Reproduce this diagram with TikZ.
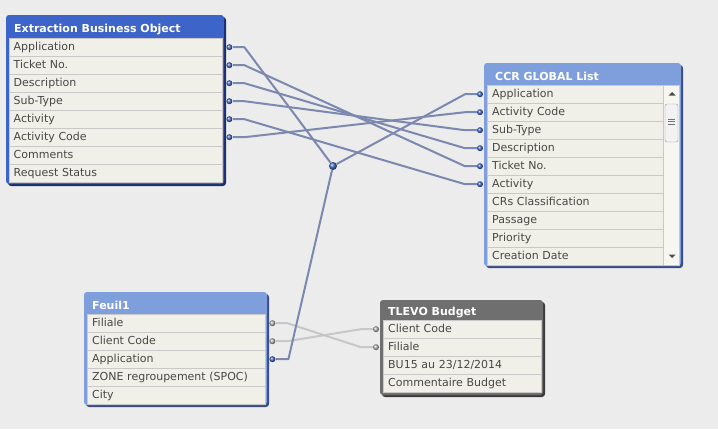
\documentclass[tikz,border=0pt]{standalone}
\usepackage{fontspec}
\setmainfont{DejaVu Sans}
\definecolor{canvas}{HTML}{ECECEC}
\definecolor{rowbg}{HTML}{F1F0E8}
\definecolor{rowline}{HTML}{C9C9C9}
\definecolor{rowtext}{HTML}{474747}
\definecolor{activeblue}{HTML}{3D65C9}
\definecolor{activedark}{HTML}{1B2D6B}
\definecolor{paleblue}{HTML}{7E9EDC}
\definecolor{paledark}{HTML}{3A4C80}
\definecolor{greytitle}{HTML}{6F6F6F}
\definecolor{greydark}{HTML}{3C3C3C}
\definecolor{linkblue}{HTML}{7C88AE}
\definecolor{linkgrey}{HTML}{C7C7C7}
\definecolor{dotblue}{HTML}{3F68C8}

\begin{document}
\begin{tikzpicture}[x=1pt, y=-1pt,
	row/.style={draw=rowline, fill=rowbg, anchor=north west, minimum height=18pt, inner xsep=5pt, inner ysep=0pt, text=rowtext, font=\fontsize{11}{12}\selectfont, align=left, text width=#1, text height=9.5pt, text depth=2pt},
	tabtitle/.style={anchor=base west, text=white, font=\fontsize{11}{12}\selectfont\bfseries, inner sep=0pt},
	keydot/.style={circle, inner sep=0pt, minimum size=6pt, shading=ball, ball color=dotblue},
	greydot/.style={circle, inner sep=0pt, minimum size=6pt, shading=ball, ball color=black!30},
	keylink/.style={draw=linkblue, line width=2pt, line join=round},
	greylink/.style={draw=linkgrey, line width=2pt, line join=round}]
	\useasboundingbox (0,0) rectangle (718,429);
	\fill[canvas] (0,0) rectangle (718,429);

	% Extraction Business Object
	\fill[activedark, rounded corners=3pt] (8,17) rectangle (226,186);
	\fill[activeblue, rounded corners=3pt] (6,15) rectangle (224,184);
	\node[tabtitle] (ebo) at (14,32) {Extraction Business Object};
	\node[row=203.5] (ebo1) at (8.5,38) {Application};
	\node[row=203.5] (ebo2) at (8.5,56) {Ticket No.};
	\node[row=203.5] (ebo3) at (8.5,74) {Description};
	\node[row=203.5] (ebo4) at (8.5,92) {Sub-Type};
	\node[row=203.5] (ebo5) at (8.5,110) {Activity};
	\node[row=203.5] (ebo6) at (8.5,128) {Activity Code};
	\node[row=203.5] (ebo7) at (8.5,146) {Comments};
	\node[row=203.5] (ebo8) at (8.5,164) {Request Status};

	% CCR GLOBAL List
	\fill[paledark, rounded corners=3pt] (486,65) rectangle (683,268);
	\fill[paleblue, rounded corners=3pt] (484,63) rectangle (681,266);
	\node[tabtitle] (ccr) at (495,80) {CCR GLOBAL List};
	\node[row=166] (ccr1) at (487,85) {Application};
	\node[row=166] (ccr2) at (487,103) {Activity Code};
	\node[row=166] (ccr3) at (487,121) {Sub-Type};
	\node[row=166] (ccr4) at (487,139) {Description};
	\node[row=166] (ccr5) at (487,157) {Ticket No.};
	\node[row=166] (ccr6) at (487,175) {Activity};
	\node[row=166] (ccr7) at (487,193) {CRs Classification};
	\node[row=166] (ccr8) at (487,211) {Passage};
	\node[row=166] (ccr9) at (487,229) {Priority};
	\node[row=166] (ccr10) at (487,247) {Creation Date};
	% scroll bar
	\filldraw[fill=rowbg!60!white, draw=rowline] (663,85) rectangle (679,265);
	\filldraw[fill=white!95!black, draw=black!40, rounded corners=2pt] (665,104) rectangle (678,142);
	\foreach \gy in {119,121.5,124}
		\draw[black!55, line width=0.8pt] (668,\gy) -- (675,\gy);
	\fill[black!70] (668.5,95.5) -- (675.5,95.5) -- (672,92) -- cycle;
	\fill[black!70] (668.5,254.5) -- (675.5,254.5) -- (672,258) -- cycle;

	% Feuil1
	\fill[paledark, rounded corners=3pt] (86,294) rectangle (269,407);
	\fill[paleblue, rounded corners=3pt] (84,292) rectangle (267,405);
	\node[tabtitle] (fe) at (92,309) {Feuil1};
	\node[row=168] (fe1) at (87,314) {Filiale};
	\node[row=168] (fe2) at (87,332) {Client Code};
	\node[row=168] (fe3) at (87,350) {Application};
	\node[row=168] (fe4) at (87,368) {ZONE regroupement (SPOC)};
	\node[row=168] (fe5) at (87,386) {City};

	% TLEVO Budget
	\fill[greydark, rounded corners=3pt] (382,302) rectangle (545,397);
	\fill[greytitle, rounded corners=3pt] (380,300) rectangle (543,395);
	\node[tabtitle] (tb) at (388,315) {TLEVO Budget};
	\node[row=148] (tb1) at (383,320) {Client Code};
	\node[row=148] (tb2) at (383,338) {Filiale};
	\node[row=148] (tb3) at (383,356) {BU15 au 23/12/2014};
	\node[row=148] (tb4) at (383,374) {Commentaire Budget};

	% key points
	\node[keydot] (ebo1p) at ([xshift=7pt]ebo1.east) {};
	\node[keydot] (ebo2p) at ([xshift=7pt]ebo2.east) {};
	\node[keydot] (ebo3p) at ([xshift=7pt]ebo3.east) {};
	\node[keydot] (ebo4p) at ([xshift=7pt]ebo4.east) {};
	\node[keydot] (ebo5p) at ([xshift=7pt]ebo5.east) {};
	\node[keydot] (ebo6p) at ([xshift=7pt]ebo6.east) {};
	\node[keydot] (ccr1p) at ([xshift=-7pt]ccr1.west) {};
	\node[keydot] (ccr2p) at ([xshift=-7pt]ccr2.west) {};
	\node[keydot] (ccr3p) at ([xshift=-7pt]ccr3.west) {};
	\node[keydot] (ccr4p) at ([xshift=-7pt]ccr4.west) {};
	\node[keydot] (ccr5p) at ([xshift=-7pt]ccr5.west) {};
	\node[keydot] (ccr6p) at ([xshift=-7pt]ccr6.west) {};
	\node[greydot] (fe1p) at ([xshift=7pt]fe1.east) {};
	\node[greydot] (fe2p) at ([xshift=7pt]fe2.east) {};
	\node[keydot] (fe3p) at ([xshift=7pt]fe3.east) {};
	\node[greydot] (tb1p) at ([xshift=-7pt]tb1.west) {};
	\node[greydot] (tb2p) at ([xshift=-7pt]tb2.west) {};
	\node[keydot, minimum size=8pt] (hub) at (333,166) {};

	% links
	\draw[greylink] (fe1p) -- ++(15,0) -- ([xshift=-15pt]tb2p.center) -- (tb2p);
	\draw[greylink] (fe2p) -- ++(15,0) -- ([xshift=-15pt]tb1p.center) -- (tb1p);
	\draw[keylink] (ebo1p) -- ++(15,0) -- (hub);
	\draw[keylink] (hub) -- ([xshift=-15pt]ccr1p.center) -- (ccr1p);
	\draw[keylink] (hub) -- ([xshift=16pt]fe3p.center) -- (fe3p);
	\draw[keylink] (ebo2p) -- ++(15,0) -- ([xshift=-15pt]ccr5p.center) -- (ccr5p);
	\draw[keylink] (ebo3p) -- ++(15,0) -- ([xshift=-15pt]ccr4p.center) -- (ccr4p);
	\draw[keylink] (ebo4p) -- ++(15,0) -- ([xshift=-15pt]ccr3p.center) -- (ccr3p);
	\draw[keylink] (ebo5p) -- ++(15,0) -- ([xshift=-15pt]ccr6p.center) -- (ccr6p);
	\draw[keylink] (ebo6p) -- ++(15,0) -- ([xshift=-15pt]ccr2p.center) -- (ccr2p);
\end{tikzpicture}
\end{document}
